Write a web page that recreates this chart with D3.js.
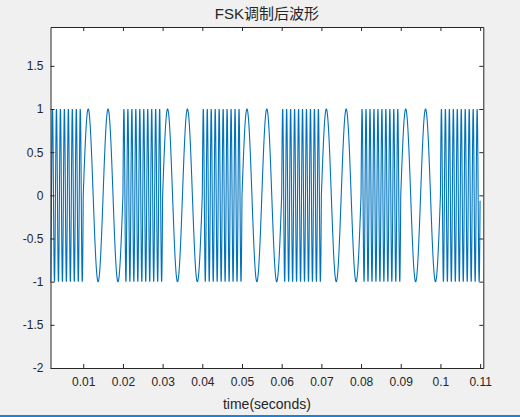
<!DOCTYPE html>
<html>
<head>
<meta charset="utf-8">
<script src="https://cdn.jsdelivr.net/npm/d3@7"></script>
<style>
  html, body { margin: 0; padding: 0; background: #F0F0F0; }
  svg { display: block; }
  text { font-family: "Liberation Sans", Arial, "Noto Sans CJK SC", sans-serif; fill: #262626; }
</style>
</head>
<body>
<svg id="chart" width="520" height="417"></svg>
<script>
// ---- data ----
const bits = [1, 0, 1, 0, 1, 0, 1, 0, 1, 0, 1];   // one bit per 0.01 s
const bitDuration = [0.01];                        // seconds
const carrierFreqs = [200, 1000];                  // Hz for bit 0, bit 1
const sampleRate = [100000];                       // samples per second
const xView = [0.00175, 0.1108];
const yView = [-2.0, 1.95];
const xTicks = [0.01, 0.02, 0.03, 0.04, 0.05, 0.06, 0.07, 0.08, 0.09, 0.1, 0.11];
const xTickLabels = ["0.01", "0.02", "0.03", "0.04", "0.05", "0.06", "0.07", "0.08", "0.09", "0.1", "0.11"];
const yTicks = [-2, -1.5, -1, -0.5, 0, 0.5, 1, 1.5];
const yTickLabels = ["-2", "-1.5", "-1", "-0.5", "0", "0.5", "1", "1.5"];
const titleText = "FSK调制后波形";
const xLabelText = "time(seconds)";

// ---- FSK waveform built from the bit sequence ----
const samples = [];
const dt = 1 / sampleRate[0];
const total = bits.length * bitDuration[0];
for (let i = 0; i * dt <= total; i++) {
  const t = i * dt;
  const k = Math.min(bits.length - 1, Math.floor(t / bitDuration[0] + 1e-9));
  const f = carrierFreqs[bits[k]];
  samples.push([t, Math.sin(2 * Math.PI * f * t)]);
}

// ---- layout ----
const svg = d3.select("#chart");
const L = 50.5, R = 483.3, T = 27, B = 368;
const x = d3.scaleLinear().domain(xView).range([L, R]);
const y = d3.scaleLinear().domain(yView).range([B, T]);

svg.append("rect").attr("x", 0).attr("y", 0).attr("width", 520).attr("height", 417).attr("fill", "#F0F0F0");
svg.append("rect").attr("x", L).attr("y", T).attr("width", R - L).attr("height", B - T).attr("fill", "#FFFFFF");

svg.append("clipPath").attr("id", "clip")
  .append("rect").attr("x", L).attr("y", T).attr("width", R - L).attr("height", B - T);

const line = d3.line().x(d => x(d[0])).y(d => y(d[1]));
svg.append("path")
  .datum(samples.filter(d => d[0] >= xView[0] - 0.0005 && d[0] <= xView[1] + 0.0005))
  .attr("clip-path", "url(#clip)")
  .attr("d", line)
  .attr("fill", "none")
  .attr("stroke", "#0072BD")
  .attr("stroke-width", 1.1);

// ---- axes ----
const tl = 4;
const axisColor = "#262626";
const gx = svg.append("g").attr("transform", `translate(0,${B})`)
  .call(d3.axisBottom(x).tickValues(xTicks).tickFormat((d, i) => xTickLabels[i]).tickSizeInner(-tl).tickSizeOuter(0).tickPadding(9));
const gxt = svg.append("g").attr("transform", `translate(0,${T})`)
  .call(d3.axisTop(x).tickValues(xTicks).tickFormat("").tickSizeInner(-tl).tickSizeOuter(0));
const gy = svg.append("g").attr("transform", `translate(${L},0)`)
  .call(d3.axisLeft(y).tickValues(yTicks).tickFormat((d, i) => yTickLabels[i]).tickSizeInner(-tl).tickSizeOuter(0).tickPadding(7));
const gyr = svg.append("g").attr("transform", `translate(${R},0)`)
  .call(d3.axisRight(y).tickValues(yTicks).tickFormat("").tickSizeInner(-tl).tickSizeOuter(0));

[gx, gxt, gy, gyr].forEach(g => {
  g.select(".domain").attr("stroke", axisColor).attr("stroke-width", 1);
  g.selectAll(".tick line").attr("stroke", axisColor).attr("stroke-width", 1);
  g.selectAll(".tick text").attr("fill", axisColor).style("font-size", "12px")
    .style("font-family", '"Liberation Sans", Arial, sans-serif');
});

// ---- title & label ----
svg.append("text").attr("x", (L + R) / 2).attr("y", 18.5).attr("text-anchor", "middle")
  .style("font-size", "15px").text(titleText);
svg.append("text").attr("x", (L + R) / 2).attr("y", 408.5).attr("text-anchor", "middle")
  .style("font-size", "14px").text(xLabelText);

// window border at the bottom
svg.append("rect").attr("x", 0).attr("y", 415).attr("width", 520).attr("height", 2).attr("fill", "#1883D7");
</script>
</body>
</html>
